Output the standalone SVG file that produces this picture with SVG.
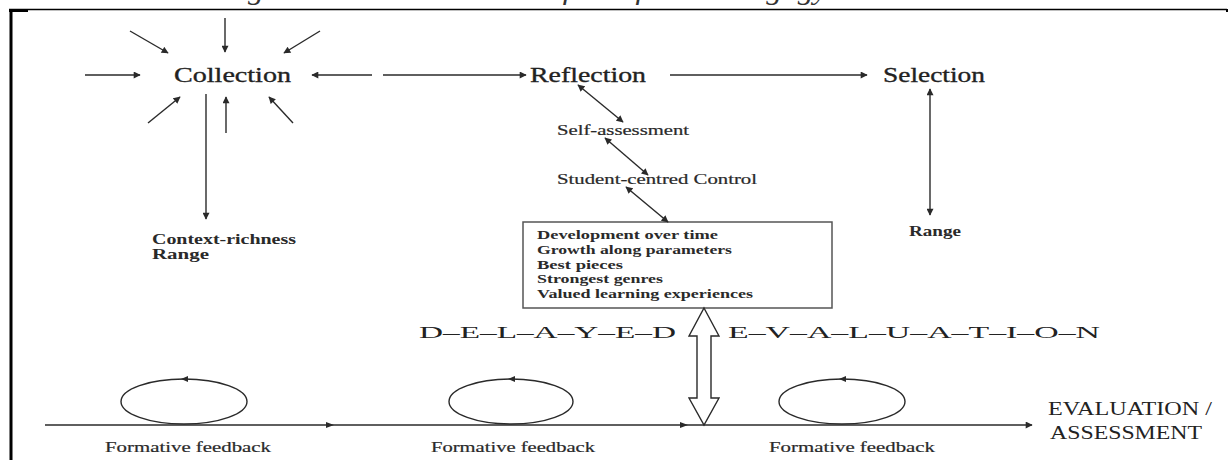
<svg xmlns="http://www.w3.org/2000/svg" width="1229" height="460" viewBox="0 0 1229 460">
<defs>
<marker id="ah" viewBox="0 0 10 10" refX="9" refY="5" markerWidth="8" markerHeight="7" markerUnits="userSpaceOnUse" orient="auto-start-reverse">
<path d="M0,0 L10,5 L0,10 z" fill="#2a2a2a"/>
</marker>
</defs>
<style>
.ln{stroke:#2a2a2a;stroke-width:1.4;fill:none}
.big{font-family:"Liberation Serif",serif;font-size:22px;fill:#222;stroke:#222;stroke-width:0.35}
.sm{font-family:"Liberation Serif",serif;font-size:14px;fill:#2a2a2a;stroke:#2a2a2a;stroke-width:0.2}
.bx{font-family:"Liberation Serif",serif;font-size:13.5px;font-weight:bold;fill:#2a2a2a}
.bd{font-family:"Liberation Serif",serif;font-size:14px;font-weight:bold;fill:#2a2a2a}
.dl{font-family:"Liberation Serif",serif;font-size:17px;fill:#222}
.ev{font-family:"Liberation Serif",serif;font-size:18px;fill:#222}
.ff{font-family:"Liberation Serif",serif;font-size:14.5px;fill:#2a2a2a;stroke:#2a2a2a;stroke-width:0.2}
.loop{stroke:#2a2a2a;stroke-width:1.4;fill:none}
</style>
<rect width="1229" height="460" fill="#fff"/>
<text x="220" y="-1" textLength="814" lengthAdjust="spacingAndGlyphs" style="font-family:'Liberation Serif',serif;font-style:italic;font-size:28px;fill:#333">Figure 1. Characteristics of Portfolio Pedagogy and Assessment</text>
<g id="frame">
<line x1="9" y1="9.5" x2="1227" y2="9.5" stroke="#000" stroke-width="1.6"/>
<line x1="9" y1="10.5" x2="28" y2="10.5" stroke="#000" stroke-width="3"/>
<line x1="11" y1="9" x2="11" y2="460" stroke="#000" stroke-width="3"/>
<line x1="1227" y1="9" x2="1227" y2="12" stroke="#000" stroke-width="2"/>
</g>
<g id="collection"><text class="big" x="174" y="82" textLength="117" lengthAdjust="spacingAndGlyphs">Collection</text></g>
<g id="reflection"><text class="big" x="530" y="82" textLength="116" lengthAdjust="spacingAndGlyphs">Reflection</text></g>
<g id="selection"><text class="big" x="883" y="82" textLength="102" lengthAdjust="spacingAndGlyphs">Selection</text></g>
<g id="self-assessment"><text class="sm" x="557" y="135" textLength="132" lengthAdjust="spacingAndGlyphs">Self-assessment</text></g>
<g id="student-control"><text class="sm" x="557" y="184" textLength="200" lengthAdjust="spacingAndGlyphs">Student-centred Control</text></g>
<g id="context"><text class="bd" x="152" y="244" textLength="144" lengthAdjust="spacingAndGlyphs">Context-richness</text><text class="bd" x="152" y="259" textLength="57" lengthAdjust="spacingAndGlyphs">Range</text></g>
<g id="range"><text class="bd" x="909" y="236" textLength="52" lengthAdjust="spacingAndGlyphs">Range</text></g>
<g id="outcomes">
<rect x="523" y="222" width="309" height="86" fill="#fff" stroke="#555" stroke-width="1.5"/>
<text class="bx" x="537" y="239" textLength="181" lengthAdjust="spacingAndGlyphs">Development over time</text>
<text class="bx" x="537" y="254" textLength="195" lengthAdjust="spacingAndGlyphs">Growth along parameters</text>
<text class="bx" x="537" y="268.5" textLength="86" lengthAdjust="spacingAndGlyphs">Best pieces</text>
<text class="bx" x="537" y="283" textLength="126" lengthAdjust="spacingAndGlyphs">Strongest genres</text>
<text class="bx" x="537" y="298" textLength="216" lengthAdjust="spacingAndGlyphs">Valued learning experiences</text>
</g>
<g id="delayed-evaluation">
<text class="dl" x="419" y="338" textLength="257" lengthAdjust="spacingAndGlyphs">D–E–L–A–Y–E–D</text>
<text class="dl" x="728" y="338" textLength="372" lengthAdjust="spacingAndGlyphs">E–V–A–L–U–A–T–I–O–N</text>
</g>
<g id="evaluation-assessment">
<text class="ev" x="1048" y="415" textLength="164" lengthAdjust="spacingAndGlyphs">EVALUATION /</text>
<text class="ev" x="1050" y="439" textLength="152" lengthAdjust="spacingAndGlyphs">ASSESSMENT</text>
</g>
<g id="feedback1"><ellipse class="loop" cx="184" cy="401.5" rx="63" ry="22.5"/><path d="M188,376 L181,379 L188,382 z" fill="#2a2a2a"/><text class="ff" x="105" y="452" textLength="166" lengthAdjust="spacingAndGlyphs">Formative feedback</text></g>
<g id="feedback2"><ellipse class="loop" cx="511" cy="401.5" rx="62" ry="22.5"/><path d="M515,376 L508,379 L515,382 z" fill="#2a2a2a"/><text class="ff" x="431" y="452" textLength="164" lengthAdjust="spacingAndGlyphs">Formative feedback</text></g>
<g id="feedback3"><ellipse class="loop" cx="842" cy="401.5" rx="63" ry="22.5"/><path d="M846,376 L839,379 L846,382 z" fill="#2a2a2a"/><text class="ff" x="769" y="452" textLength="166" lengthAdjust="spacingAndGlyphs">Formative feedback</text></g>
<g id="connectors">
<line class="ln" x1="130" y1="31" x2="168" y2="53" marker-end="url(#ah)"/>
<line class="ln" x1="225" y1="18" x2="225" y2="52" marker-end="url(#ah)"/>
<line class="ln" x1="320" y1="31" x2="284" y2="53" marker-end="url(#ah)"/>
<line class="ln" x1="85" y1="75" x2="140" y2="75" marker-end="url(#ah)"/>
<line class="ln" x1="148" y1="123" x2="180" y2="97" marker-end="url(#ah)"/>
<line class="ln" x1="226" y1="133" x2="226" y2="97" marker-end="url(#ah)"/>
<line class="ln" x1="293" y1="123" x2="269" y2="97" marker-end="url(#ah)"/>
<line class="ln" x1="206" y1="94" x2="206" y2="219" marker-end="url(#ah)"/>
<line class="ln" x1="372" y1="75" x2="312" y2="75" marker-end="url(#ah)"/>
<line class="ln" x1="383" y1="75" x2="526" y2="75" marker-end="url(#ah)"/>
<line class="ln" x1="670" y1="75" x2="867" y2="75" marker-end="url(#ah)"/>
<line class="ln" x1="930" y1="89" x2="930" y2="215" marker-start="url(#ah)" marker-end="url(#ah)"/>
<line class="ln" x1="578" y1="85" x2="623" y2="122" marker-start="url(#ah)" marker-end="url(#ah)"/>
<line class="ln" x1="605" y1="138" x2="648" y2="175" marker-start="url(#ah)" marker-end="url(#ah)"/>
<line class="ln" x1="626" y1="187" x2="668" y2="222" marker-start="url(#ah)" marker-end="url(#ah)"/>
<line class="ln" x1="45" y1="425" x2="1032" y2="425" marker-end="url(#ah)"/>
<path d="M326,422 L334,425 L326,428 z" fill="#2a2a2a"/>
<path d="M680,422 L688,425 L680,428 z" fill="#2a2a2a"/>
<polygon points="704,308 719,336 711,336 711,398 719,398 704,425 689,398 697,398 697,336 689,336" fill="#fff" stroke="#2a2a2a" stroke-width="1.4"/>
</g>
</svg>
